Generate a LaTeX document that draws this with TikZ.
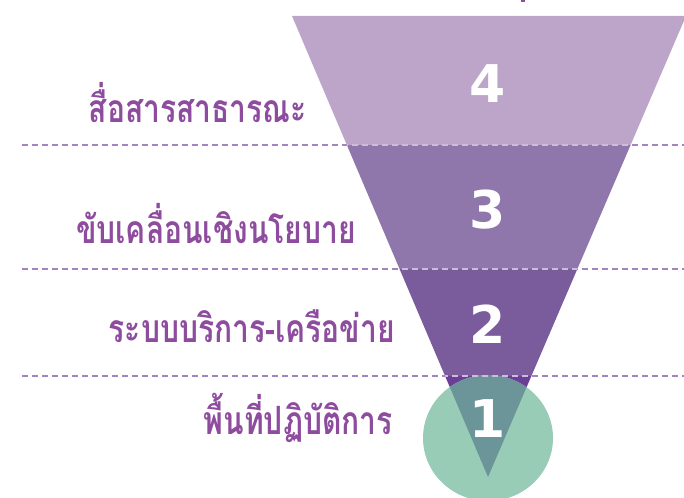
\documentclass[tikz,border=0pt]{standalone}
\usepackage{fontspec}
\newfontfamily\thaifont[Script=Thai]{Loma}
\newfontfamily\numfont{DejaVu Sans}
\usetikzlibrary{calc}
\definecolor{bandfour}{HTML}{BCA5C9}
\definecolor{bandthree}{HTML}{8F76AB}
\definecolor{bandtwo}{HTML}{7A5C9C}
\definecolor{bandone}{HTML}{6A3F95}
\definecolor{circgreen}{HTML}{98CCB6}
\definecolor{overlap}{HTML}{6C9599}
\definecolor{dashpurple}{HTML}{A384BE}
\definecolor{dashlight}{HTML}{CDBCDA}
\definecolor{labelpurple}{HTML}{8E4C9E}
\newcommand{\tallthai}[1]{\scalebox{1}[1.3]{#1}}
\tikzset{
  numlabel/.style={text=white, font=\numfont\bfseries\fontsize{52}{52}\selectfont, anchor=base, inner sep=0pt},
  levellabel/.style={text=labelpurple, font=\thaifont\bfseries\fontsize{30}{30}\selectfont, anchor=base east, inner sep=0pt},
  sepline/.style={line width=1.8pt, dash pattern=on 6pt off 4pt},
}
\begin{document}
\begin{tikzpicture}[x=1pt,y=-1pt]
\useasboundingbox (0,0) rectangle (684,497);
\coordinate (A) at (292,16);
\coordinate (B) at (686,16);
\coordinate (C) at (488,477);
% bands
\begin{scope}
  \clip (A) -- (B) -- (C) -- cycle;
  \fill[bandfour] (0,0) rectangle (700,145);
  \fill[bandthree] (0,145) rectangle (700,269);
  \fill[bandtwo] (0,269) rectangle (700,376);
  \fill[bandone] (0,376) rectangle (700,500);
\end{scope}
% circle
\coordinate (O) at (488,438);
\fill[circgreen] (O) ellipse [x radius=65pt, y radius=63pt];
\begin{scope}
  \clip (O) ellipse [x radius=65pt, y radius=63pt];
  \fill[overlap] (A) -- (B) -- (C) -- cycle;
\end{scope}
% separators
\foreach \yy in {145,269,376} {
  \coordinate (sl\yy) at (22,\yy);
  \coordinate (sr\yy) at (684,\yy);
  \draw[sepline, dashpurple] (sl\yy) -- (sr\yy);
}
\begin{scope}
  \clip (A) -- (B) -- (C) -- cycle;
  \foreach \yy in {145,269,376} {
    \draw[sepline, dashlight] (sl\yy) -- (sr\yy);
  }
\end{scope}
% small clipped fragment at top
\fill[labelpurple] (521,0) rectangle (525,2);
% numbers
\node[numlabel] (n4) at (488,103) {4};
\node[numlabel] (n3) at (488,228) {3};
\node[numlabel] (n2) at (488,343) {2};
\node[numlabel] (n1) at (488,437) {1};
% labels
\node[levellabel] (l4) at (307,123) {\tallthai{สื่อสารสาธารณะ}};
\node[levellabel] (l3) at (356,243) {\tallthai{ขับเคลื่อนเชิงนโยบาย}};
\node[levellabel] (l2) at (395,342) {\tallthai{ระบบบริการ-เครือข่าย}};
\node[levellabel] (l1) at (393,434) {\tallthai{พื้นที่ปฏิบัติการ}};
\end{tikzpicture}
\end{document}
